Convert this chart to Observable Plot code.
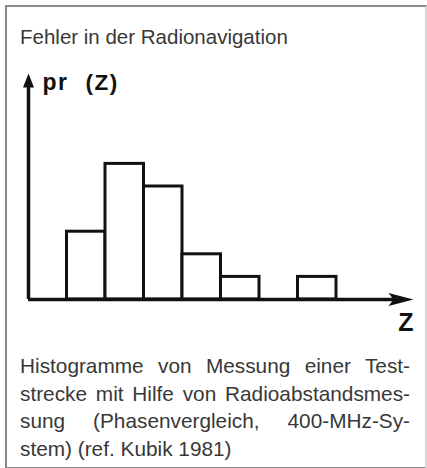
<!DOCTYPE html>
<html><head><meta charset="utf-8">
<script src="https://cdn.jsdelivr.net/npm/d3@7"></script>
<script src="https://cdn.jsdelivr.net/npm/@observablehq/plot@0.6"></script>
<style>
html,body{margin:0;padding:0;background:#fff;}
#wrap{position:relative;width:427px;height:468px;overflow:hidden;font-family:"Liberation Sans",Arial,sans-serif;color:#383838;}
#frame{position:absolute;left:5px;top:5px;width:418px;height:460px;border:2px solid #8a8a8a;border-right-color:#d8d8d8;}
#title{position:absolute;left:20px;top:25px;font-size:20.5px;white-space:nowrap;line-height:1.15;}
#chart{position:absolute;left:0;top:60px;}
#caption{position:absolute;left:20px;top:352px;width:390px;font-size:20.8px;line-height:27.5px;}
#caption .j{text-align:justify;text-align-last:justify;white-space:nowrap;}
</style></head>
<body><div id="wrap"><div id="frame"></div>
<div id="title"></div><div id="chart"></div><div id="caption"></div></div>
<script>
const titleText = "Fehler in der Radionavigation";
const yLabelParts = ["pr", "(Z)"];
const xLabel = "Z";
const binStart = [1, 2, 3, 4, 5, 6, 7];
const binEnd   = [2, 3, 4, 5, 6, 7, 8];
const counts   = [3, 6, 5, 2, 1, 0, 1];
const xMax = 10, yMax = 10;
const captionLines = [
  "Histogramme von Messung einer Test-",
  "strecke mit Hilfe von Radioabstandsmes-",
  "sung (Phasenvergleich, 400-MHz-Sy-",
  "stem) (ref. Kubik 1981)"
];

document.getElementById("title").textContent = titleText;
const cap = document.getElementById("caption");
captionLines.forEach((t, i) => {
  const d = document.createElement("div");
  d.textContent = t;
  if (i < captionLines.length - 1) d.className = "j";
  cap.appendChild(d);
});

const bins = binStart.map((s, i) => ({x1: s, x2: binEnd[i], count: counts[i]})).filter(d => d.count > 0);

const headUp = {draw(ctx){ ctx.moveTo(0,0); ctx.lineTo(5.5,14); ctx.lineTo(-5.5,14); ctx.closePath(); }};
const headRight = {draw(ctx){ ctx.moveTo(0,0); ctx.lineTo(-25,-6.5); ctx.lineTo(-20,0); ctx.lineTo(-25,6.5); ctx.closePath(); }};

const ink = "#111";
const bold = {fontWeight: "bold", fill: ink, fontFamily: "Liberation Sans, Arial, sans-serif", textAnchor: "start", lineAnchor: "bottom"};
const chart = Plot.plot({
  width: 427, height: 280,
  marginLeft: 28, marginRight: 14, marginTop: 13, marginBottom: 41,
  x: {domain: [0, xMax], axis: null},
  y: {domain: [0, yMax], axis: null},
  marks: [
    Plot.rectY(bins, {x1: "x1", x2: "x2", y: "count", fill: "white", stroke: ink, strokeWidth: 3}),
    Plot.ruleY([0], {x1: 0, x2: xMax - 0.3, stroke: ink, strokeWidth: 3.5}),
    Plot.ruleX([0], {y1: 0, y2: yMax - 0.3, stroke: ink, strokeWidth: 3.5}),
    Plot.dot([{x: 0, y: yMax}], {x: "x", y: "y", symbol: headUp, fill: ink, stroke: "none", r: 5}),
    Plot.dot([{x: xMax, y: 0}], {x: "x", y: "y", symbol: headRight, fill: ink, stroke: "none", r: 5}),
    Plot.text([yLabelParts[0]], {...bold, fontSize: 23, x: 0, y: yMax, text: d => d, dx: 14, dy: 16}),
    Plot.text([yLabelParts[1]], {...bold, fontSize: 22.5, x: 0, y: yMax, text: d => d, dx: 57, dy: 16}),
    Plot.text([xLabel], {x: xMax, y: 0, text: d => d, textAnchor: "end", lineAnchor: "bottom", dx: 0, dy: 31,
      fontSize: 25, fontWeight: "bold", fill: ink, fontFamily: "Liberation Sans, Arial, sans-serif"})
  ]
});
chart.querySelectorAll("text").forEach(t => {
  if (t.textContent === "pr") t.style.letterSpacing = "1.5px";
  if (t.textContent === "(Z)") t.style.letterSpacing = "1.5px";
});
document.getElementById("chart").appendChild(chart);
</script>
</body></html>
